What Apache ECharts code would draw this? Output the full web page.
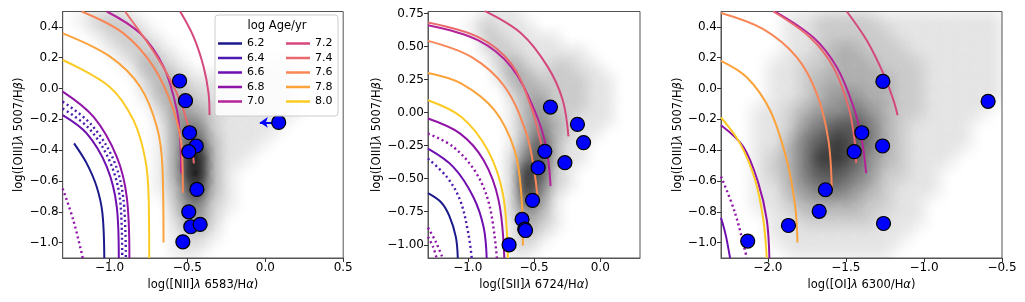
<!DOCTYPE html>
<html lang="en">
<head>
    <meta charset="UTF-8">
    <title>BPT diagrams</title>
    <script src="https://cdn.jsdelivr.net/npm/echarts@6/dist/echarts.min.js"></script>
</head>
<body style="margin:0;background:#fff">
<div id="main" style="width:1025px;height:302px"></div>
<script type="text/javascript">
    // ---- data ----
    var ages = ['6.2', '6.4', '6.6', '6.8', '7.0', '7.2', '7.4', '7.6', '7.8', '8.0'];

    var oiiiTicks = [-1.0, -0.8, -0.6, -0.4, -0.2, 0.0, 0.2, 0.4];
    var oiiiTicksSii = [-1.0, -0.75, -0.5, -0.25, 0.0, 0.25, 0.5, 0.75];
    var niiTicks = [-1.0, -0.5, 0.0, 0.5];
    var siiTicks = [-1.0, -0.5, 0.0];
    var oiTicks = [-2.0, -1.5, -1.0, -0.5];

    // observed regions
    var niiPoints = [[-0.55, 0.049], [-0.512, -0.079], [-0.486, -0.287], [-0.443, -0.373], [-0.491, -0.41],
        [-0.439, -0.655], [-0.491, -0.80], [-0.478, -0.897], [-0.418, -0.882], [-0.529, -0.995], [0.086, -0.22]];
    var niiUpperLimit = [[0.086, -0.22], [-0.035, -0.22]];
    var siiPoints = [[-0.376, 0.042], [-0.172, -0.089], [-0.126, -0.227], [-0.418, -0.293], [-0.267, -0.379],
        [-0.469, -0.417], [-0.511, -0.664], [-0.59, -0.808], [-0.57, -0.882], [-0.564, -0.892], [-0.688, -1.0]];
    var oiPoints = [[-1.263, 0.046], [-0.589, -0.083], [-1.398, -0.287], [-1.265, -0.373], [-1.447, -0.41],
        [-1.631, -0.657], [-1.671, -0.797], [-1.868, -0.889], [-1.259, -0.876], [-2.129, -0.99]];

    // model tracks, [NII] panel
    var nii62 = [[-1.227, -0.356], [-1.146, -0.486], [-1.082, -0.638], [-1.045, -0.81], [-1.033, -1.1]];
    var nii64dotA = [[-1.3, -0.085], [-1.12, -0.23], [-0.975, -0.46], [-0.91, -0.72], [-0.895, -1.1]];
    var nii64dotB = [[-1.3, -0.13], [-1.13, -0.26], [-0.995, -0.48], [-0.93, -0.74], [-0.918, -1.1]];
    var nii66 = [[-1.3, -0.172], [-1.146, -0.291], [-1.017, -0.508], [-0.953, -0.768], [-0.94, -1.1]];
    var nii68 = [[-1.3, -0.02], [-1.103, -0.183], [-0.953, -0.443], [-0.889, -0.703], [-0.872, -1.1]];
    var nii68dot = [[-1.3, -0.65], [-1.232, -0.854], [-1.171, -1.1]];
    var nii70 = [[-1.017, 0.5], [-0.803, 0.358], [-0.653, 0.142], [-0.567, -0.14], [-0.545, -0.35], [-0.54, -0.551]];
    var nii72 = [[-0.546, 0.5], [-0.46, 0.336], [-0.396, 0.142], [-0.364, -0.031], [-0.358, -0.172]];
    var nii74 = [[-0.90, 0.5], [-0.696, 0.207], [-0.567, -0.031], [-0.493, -0.248], [-0.458, -0.486]];
    var nii76 = [[-1.178, 0.5], [-0.91, 0.358], [-0.718, 0.142], [-0.589, -0.14], [-0.535, -0.4], [-0.529, -0.677]];
    var nii78 = [[-1.3, 0.358], [-0.996, 0.207], [-0.803, 0.012], [-0.696, -0.248], [-0.66, -0.508], [-0.653, -1.0]];
    var nii80 = [[-1.3, 0.185], [-1.0, 0.012], [-0.846, -0.205], [-0.77, -0.46], [-0.748, -0.72], [-0.745, -1.1]];

    // model tracks, [SII] panel
    var sii62 = [[-1.3, -0.61], [-1.2, -0.68], [-1.14, -0.78], [-1.09, -0.94], [-1.075, -1.1]];
    var sii64dot = [[-1.3, -0.348], [-1.157, -0.488], [-1.057, -0.664], [-0.995, -0.917], [-0.97, -1.1]];
    var sii66 = [[-1.3, -0.273], [-1.108, -0.412], [-0.957, -0.64], [-0.88, -0.867], [-0.857, -1.1]];
    var sii68dot = [[-1.3, -0.159], [-1.108, -0.26], [-0.933, -0.462], [-0.833, -0.715], [-0.78, -1.1]];
    var sii68 = [[-1.3, -0.045], [-1.057, -0.159], [-0.88, -0.361], [-0.767, -0.664], [-0.724, -1.1]];
    var sii68dotB = [[-1.3, -0.87], [-1.24, -0.98], [-1.19, -1.1]];
    var sii68dotC = [[-1.3, -0.94], [-1.26, -1.02], [-1.235, -1.1]];
    var sii70 = [[-1.3, 0.661], [-0.923, 0.548], [-0.672, 0.346], [-0.496, 0.017], [-0.408, -0.26], [-0.375, -0.556]];
    var sii72 = [[-0.873, 0.77], [-0.596, 0.599], [-0.396, 0.346], [-0.283, 0.094], [-0.24, -0.18]];
    var sii74 = [[-1.3, 0.682], [-0.923, 0.573], [-0.672, 0.371], [-0.521, 0.042], [-0.446, -0.235], [-0.43, -0.33]];
    var sii76 = [[-1.3, 0.543], [-0.973, 0.421], [-0.72, 0.194], [-0.557, -0.159], [-0.495, -0.462], [-0.47, -0.677]];
    var sii78 = [[-1.3, 0.30], [-1.048, 0.22], [-0.797, 0.017], [-0.646, -0.286], [-0.596, -0.614], [-0.584, -1.005]];
    var sii80 = [[-1.3, 0.094], [-1.048, -0.033], [-0.848, -0.286], [-0.735, -0.614], [-0.697, -1.1]];

    // model tracks, [OI] panel
    var oi66 = [[-2.3, -0.839], [-2.27, -0.95], [-2.242, -1.1]];
    var oi68dot = [[-2.3, -0.571], [-2.21, -0.807], [-2.135, -1.1]];
    var oi68 = [[-2.3, -0.238], [-2.157, -0.378], [-2.061, -0.614], [-2.007, -0.85], [-1.99, -1.1]];
    var oi70 = [[-1.954, 0.5], [-1.708, 0.331], [-1.558, 0.138], [-1.451, -0.12], [-1.398, -0.335], [-1.37, -0.549]];
    var oi72 = [[-1.494, 0.5], [-1.365, 0.31], [-1.259, 0.095], [-1.195, -0.077], [-1.169, -0.173]];
    var oi74 = [[-1.965, 0.5], [-1.729, 0.331], [-1.58, 0.138], [-1.483, -0.12], [-1.445, -0.33], [-1.434, -0.484]];
    var oi76 = [[-2.3, 0.49], [-2.029, 0.385], [-1.814, 0.202], [-1.686, -0.034], [-1.612, -0.335], [-1.59, -0.668]];
    var oi78 = [[-2.3, 0.18], [-2.135, 0.073], [-1.986, -0.141], [-1.879, -0.463], [-1.825, -0.764], [-1.81, -1.0]];
    var oi80 = [[-2.3, -0.188], [-2.178, -0.356], [-2.082, -0.592], [-2.029, -0.85], [-2.007, -1.1]];

    // galaxy density (0-9), cells of 0.1 dex; first row/col are the cell centres below
    var niiDensityX0 = -1.25, niiDensityY0 = 0.45;
    var niiDensity = [
        [0, 1, 2, 2, 1, 0, 0, 0, 0, 0, 0, 0, 0, 0, 0, 0, 0, 0],
        [0, 0, 1, 2, 2, 1, 0, 0, 0, 0, 0, 0, 0, 0, 0, 0, 0, 0],
        [0, 0, 0, 1, 2, 2, 1, 0, 0, 0, 0, 0, 0, 0, 0, 0, 0, 0],
        [0, 0, 0, 0, 1, 3, 2, 1, 0, 0, 0, 0, 1, 1, 1, 0, 0, 0],
        [0, 0, 0, 0, 0, 2, 3, 2, 1, 1, 1, 1, 1, 1, 1, 0, 0, 0],
        [0, 0, 0, 0, 0, 1, 3, 3, 2, 1, 1, 1, 1, 1, 1, 0, 0, 0],
        [0, 0, 0, 0, 0, 0, 2, 4, 3, 2, 1, 1, 1, 1, 1, 0, 0, 0],
        [0, 0, 0, 0, 0, 0, 1, 4, 5, 2, 1, 1, 1, 1, 0, 0, 0, 0],
        [0, 0, 0, 0, 0, 0, 1, 4, 6, 3, 1, 1, 1, 0, 0, 0, 0, 0],
        [0, 0, 0, 0, 0, 0, 1, 4, 8, 3, 1, 1, 0, 0, 0, 0, 0, 0],
        [0, 0, 0, 0, 0, 0, 1, 4, 8, 3, 1, 0, 0, 0, 0, 0, 0, 0],
        [0, 0, 0, 0, 0, 0, 1, 3, 7, 3, 1, 0, 0, 0, 0, 0, 0, 0],
        [0, 0, 0, 0, 0, 0, 0, 3, 5, 2, 1, 0, 0, 0, 0, 0, 0, 0],
        [0, 0, 0, 0, 0, 0, 0, 2, 4, 2, 0, 0, 0, 0, 0, 0, 0, 0],
        [0, 0, 0, 0, 0, 0, 0, 1, 2, 1, 0, 0, 0, 0, 0, 0, 0, 0],
        [0, 0, 0, 0, 0, 0, 0, 1, 1, 0, 0, 0, 0, 0, 0, 0, 0, 0]
    ];
    var siiDensityX0 = -1.25, siiDensityY0 = 0.75;
    var siiDensity = [
        [0, 0, 0, 0, 1, 1, 1, 0, 0, 0, 0, 0, 0, 0, 0, 0],
        [0, 0, 0, 1, 2, 1, 1, 1, 0, 0, 0, 0, 0, 0, 0, 0],
        [0, 0, 0, 0, 2, 2, 1, 1, 1, 1, 0, 0, 0, 0, 0, 0],
        [0, 0, 0, 0, 1, 2, 2, 1, 1, 1, 1, 1, 0, 0, 0, 0],
        [0, 0, 0, 0, 0, 2, 3, 2, 1, 2, 2, 1, 1, 0, 0, 0],
        [0, 0, 0, 0, 0, 1, 3, 3, 2, 2, 2, 2, 1, 1, 0, 0],
        [0, 0, 0, 0, 0, 0, 2, 3, 3, 2, 2, 2, 1, 1, 0, 0],
        [0, 0, 0, 0, 0, 0, 1, 3, 4, 2, 2, 2, 1, 1, 0, 0],
        [0, 0, 0, 0, 0, 0, 1, 3, 4, 3, 2, 1, 1, 1, 0, 0],
        [0, 0, 0, 0, 0, 0, 1, 3, 5, 3, 2, 1, 1, 0, 0, 0],
        [0, 0, 0, 0, 0, 0, 1, 4, 6, 3, 1, 1, 0, 0, 0, 0],
        [0, 0, 0, 0, 0, 0, 2, 5, 6, 3, 1, 1, 0, 0, 0, 0],
        [0, 0, 0, 0, 0, 0, 2, 7, 6, 2, 1, 0, 0, 0, 0, 0],
        [0, 0, 0, 0, 0, 0, 2, 7, 5, 2, 1, 0, 0, 0, 0, 0],
        [0, 0, 0, 0, 0, 0, 2, 6, 4, 1, 0, 0, 0, 0, 0, 0],
        [0, 0, 0, 0, 0, 0, 2, 4, 3, 1, 0, 0, 0, 0, 0, 0],
        [0, 0, 0, 0, 0, 0, 1, 3, 2, 1, 0, 0, 0, 0, 0, 0],
        [0, 0, 0, 0, 0, 0, 1, 2, 1, 0, 0, 0, 0, 0, 0, 0],
        [0, 0, 0, 0, 0, 0, 1, 1, 0, 0, 0, 0, 0, 0, 0, 0]
    ];
    var oiDensityX0 = -2.25, oiDensityY0 = 0.45;
    var oiDensity = [
        [0, 0, 0, 0, 1, 1, 2, 2, 2, 2, 1, 1, 1, 1, 1, 1, 1, 1],
        [0, 0, 0, 0, 1, 1, 2, 2, 2, 2, 2, 1, 1, 1, 1, 1, 1, 1],
        [0, 0, 0, 0, 1, 1, 2, 3, 3, 2, 2, 2, 1, 1, 1, 1, 1, 1],
        [0, 0, 0, 1, 1, 2, 2, 3, 3, 3, 2, 2, 2, 1, 1, 1, 1, 1],
        [0, 0, 0, 1, 1, 2, 3, 3, 3, 3, 3, 2, 2, 1, 1, 1, 1, 1],
        [0, 0, 0, 1, 1, 2, 3, 4, 4, 3, 3, 2, 2, 1, 1, 1, 1, 1],
        [0, 0, 1, 1, 2, 3, 4, 4, 5, 4, 3, 2, 2, 1, 1, 1, 1, 0],
        [0, 0, 1, 1, 2, 4, 5, 6, 6, 5, 3, 2, 1, 1, 1, 1, 0, 0],
        [0, 0, 1, 1, 3, 5, 6, 7, 6, 5, 3, 2, 1, 1, 1, 1, 0, 0],
        [0, 0, 1, 2, 3, 5, 7, 7, 6, 4, 3, 2, 1, 1, 1, 0, 0, 0],
        [0, 0, 1, 2, 3, 5, 6, 6, 5, 4, 2, 2, 1, 1, 0, 0, 0, 0],
        [0, 0, 1, 1, 3, 4, 5, 5, 4, 3, 2, 1, 1, 1, 0, 0, 0, 0],
        [0, 0, 1, 1, 2, 3, 3, 3, 3, 2, 2, 1, 1, 0, 0, 0, 0, 0],
        [0, 0, 0, 1, 1, 2, 2, 2, 2, 2, 1, 1, 1, 0, 0, 0, 0, 0],
        [0, 0, 0, 1, 1, 1, 1, 1, 1, 1, 1, 1, 0, 0, 0, 0, 0, 0],
        [0, 0, 0, 0, 1, 1, 1, 1, 1, 1, 1, 0, 0, 0, 0, 0, 0, 0]
    ];

    // ---- styling ----
    var FONT = 'DejaVu Sans';
    var ageColor = {
        '6.2': '#1b1a8a', '6.4': '#4c1ab0', '6.6': '#6e0fb0', '6.8': '#9013a8', '7.0': '#b5239a',
        '7.2': '#d4487d', '7.4': '#e96a6c', '7.6': '#f78756', '7.8': '#fca23a', '8.0': '#fbcb24'
    };

    function fmt(v, d) {
        return v.toFixed(d).replace('-', '\u2212');
    }

    function cells(grid, x0, y0) {
        var out = [];
        grid.forEach(function (row, r) {
            row.forEach(function (v, c) {
                if (v > 0) out.push([x0 + c * 0.1, y0 - r * 0.1, v]);
            });
        });
        return out;
    }

    function densitySeries(gi, data) {
        return {
            type: 'custom', xAxisIndex: gi, yAxisIndex: gi, data: data, clip: true, silent: true, z: 1,
            animation: false,
            renderItem: function (params, api) {
                var p = api.coord([api.value(0), api.value(1)]);
                var s = api.size([0.1, 0.1]);
                var R = 0.72 * (s[0] + s[1]);
                var d = Math.min(api.value(2) / 10, 0.95);
                var a = Math.min(1, -Math.log(1 - d) / 1.95);
                return {
                    type: 'circle',
                    shape: {cx: p[0], cy: p[1], r: R},
                    style: {
                        fill: {
                            type: 'radial', x: 0.5, y: 0.5, r: 0.5,
                            colorStops: [
                                {offset: 0, color: 'rgba(0,0,0,' + a + ')'},
                                {offset: 0.35, color: 'rgba(0,0,0,' + (a * 0.7) + ')'},
                                {offset: 0.7, color: 'rgba(0,0,0,' + (a * 0.2) + ')'},
                                {offset: 1, color: 'rgba(0,0,0,0)'}
                            ]
                        }
                    }
                };
            }
        };
    }

    function curve(gi, age, pts, dotted) {
        return {
            type: 'line', name: age, xAxisIndex: gi, yAxisIndex: gi, data: pts,
            smooth: 0.35, symbol: 'none', silent: true, animation: false, z: 3, clip: true,
            itemStyle: {color: ageColor[age]},
            lineStyle: {color: ageColor[age], width: dotted ? 2.4 : 2, type: dotted ? [2, 3] : 'solid'}
        };
    }

    function points(gi, pts) {
        return {
            type: 'scatter', xAxisIndex: gi, yAxisIndex: gi, data: pts, symbolSize: 14, z: 6,
            animation: false, silent: true,
            itemStyle: {color: '#0000ff', borderColor: '#000', borderWidth: 1.2, opacity: 1}
        };
    }

    var nameStyle = {
        fontFamily: FONT, fontSize: 11.5, color: '#000',
        rich: {i: {fontFamily: FONT, fontSize: 11.5, fontStyle: 'italic', color: '#000'}}
    };

    function xAxis(gi, min, max, ticks, name) {
        return {
            gridIndex: gi, type: 'value', min: min, max: max,
            name: name, nameLocation: 'middle', nameGap: 16, nameTextStyle: nameStyle,
            axisLine: {show: true, onZero: false, lineStyle: {color: '#555', width: 1}},
            axisTick: {show: true, customValues: ticks, length: 4, lineStyle: {color: '#333'}},
            axisLabel: {
                customValues: ticks, margin: 4, fontFamily: FONT, fontSize: 12, color: '#000',
                formatter: function (v) { return fmt(v, 1); }
            },
            splitLine: {show: false}
        };
    }

    function yAxis(gi, min, max, ticks, dec, gap) {
        return {
            gridIndex: gi, type: 'value', min: min, max: max,
            name: 'log([OIII]{i|\u03bb} 5007/H{i|\u03b2})', nameLocation: 'middle', nameRotate: 90,
            nameGap: gap, nameTextStyle: nameStyle,
            axisLine: {show: true, onZero: false, lineStyle: {color: '#555', width: 1}},
            axisTick: {show: true, customValues: ticks, length: 4, lineStyle: {color: '#333'}},
            axisLabel: {
                customValues: ticks, margin: 4, fontFamily: FONT, fontSize: 12, color: '#000',
                formatter: function (v) { return fmt(v, dec); }
            },
            splitLine: {show: false}
        };
    }

    var myChart = echarts.init(document.getElementById('main'), null, {renderer: 'canvas'});

    var series = [
        densitySeries(0, cells(niiDensity, niiDensityX0, niiDensityY0)),
        densitySeries(1, cells(siiDensity, siiDensityX0, siiDensityY0)),
        densitySeries(2, cells(oiDensity, oiDensityX0, oiDensityY0)),

        curve(0, '6.2', nii62), curve(0, '6.4', nii64dotA, true), curve(0, '6.4', nii64dotB, true),
        curve(0, '6.6', nii66), curve(0, '6.8', nii68), curve(0, '6.8', nii68dot, true),
        curve(0, '7.0', nii70), curve(0, '7.2', nii72), curve(0, '7.4', nii74),
        curve(0, '7.6', nii76), curve(0, '7.8', nii78), curve(0, '8.0', nii80),

        curve(1, '6.2', sii62), curve(1, '6.4', sii64dot, true), curve(1, '6.6', sii66),
        curve(1, '6.8', sii68dot, true), curve(1, '6.8', sii68), curve(1, '6.8', sii68dotB, true),
        curve(1, '6.8', sii68dotC, true), curve(1, '7.0', sii70), curve(1, '7.2', sii72),
        curve(1, '7.4', sii74), curve(1, '7.6', sii76), curve(1, '7.8', sii78), curve(1, '8.0', sii80),

        curve(2, '6.6', oi66), curve(2, '6.8', oi68dot, true), curve(2, '6.8', oi68),
        curve(2, '7.0', oi70), curve(2, '7.2', oi72), curve(2, '7.4', oi74),
        curve(2, '7.6', oi76), curve(2, '7.8', oi78), curve(2, '8.0', oi80)
    ];

    var niiScatter = points(0, niiPoints);
    niiScatter.markLine = {
        silent: true, animation: false, symbol: ['none', 'arrow'], symbolSize: 8,
        lineStyle: {color: '#0000ff', width: 2, type: 'solid'}, label: {show: false},
        data: [[{coord: niiUpperLimit[0]}, {coord: niiUpperLimit[1]}]]
    };
    series.push(niiScatter, points(1, siiPoints), points(2, oiPoints));

    var legendText = {fontFamily: FONT, fontSize: 11, color: '#000'};

    myChart.setOption({
        backgroundColor: '#fff',
        animation: false,
        grid: [
            {left: 62.7, top: 11.5, width: 280.5, height: 246.5, show: true, borderColor: '#555', borderWidth: 1},
            {left: 428, top: 11.5, width: 212, height: 246.5, show: true, borderColor: '#555', borderWidth: 1},
            {left: 721, top: 11.5, width: 281, height: 246.5, show: true, borderColor: '#555', borderWidth: 1}
        ],
        xAxis: [
            xAxis(0, -1.3, 0.5, niiTicks, 'log([NII]{i|\u03bb} 6583/H{i|\u03b1})'),
            xAxis(1, -1.3, 0.3, siiTicks, 'log([SII]{i|\u03bb} 6724/H{i|\u03b1})'),
            xAxis(2, -2.3, -0.5, oiTicks, 'log([OI]{i|\u03bb} 6300/H{i|\u03b1})')
        ],
        yAxis: [
            yAxis(0, -1.1, 0.5, oiiiTicks, 1, 38),
            yAxis(1, -1.1, 0.765, oiiiTicksSii, 2, 44),
            yAxis(2, -1.1, 0.5, oiiiTicks, 1, 36)
        ],
        graphic: [
            {type: 'rect', z: 20, shape: {x: 215, y: 15, width: 123, height: 101, r: 3},
                style: {fill: 'rgba(255,255,255,0.85)', stroke: '#cccccc', lineWidth: 1}},
            {type: 'text', z: 21, x: 277, y: 26,
                style: {text: 'log Age/yr', fontFamily: FONT, fontSize: 11.5, fill: '#000', align: 'center', verticalAlign: 'middle'}}
        ],
        legend: [
            {data: ages.slice(0, 5), orient: 'vertical', left: 218, top: 38, padding: 0, itemGap: 3.5,
                itemWidth: 24, itemHeight: 2.5, icon: 'rect', selectedMode: false, z: 30, textStyle: legendText},
            {data: ages.slice(5), orient: 'vertical', left: 286, top: 38, padding: 0, itemGap: 3.5,
                itemWidth: 24, itemHeight: 2.5, icon: 'rect', selectedMode: false, z: 30, textStyle: legendText}
        ],
        series: series
    });
</script>
</body>
</html>
